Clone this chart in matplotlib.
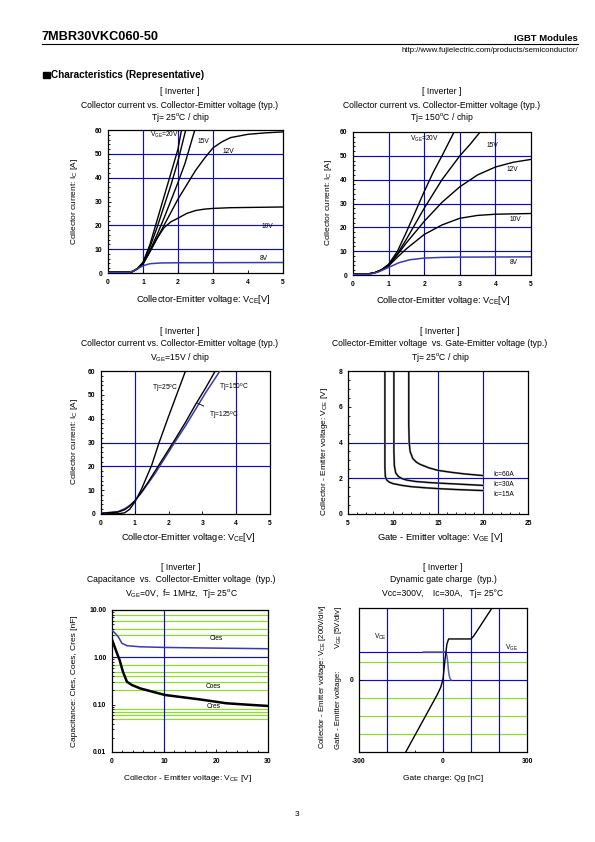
import matplotlib
matplotlib.use("Agg")
import matplotlib.pyplot as plt
from matplotlib.ticker import MultipleLocator, LogLocator, NullFormatter

# ---- chart 1: Ic vs Vce, Tj=25C ----
c1_vge20_v = [0.0, 0.5, 0.7, 0.85, 1.0, 1.2, 1.4, 1.6, 1.8, 2.0, 2.1]
c1_vge20_i = [0.3, 0.3, 0.6, 2.0, 4.5, 12, 22, 32, 42, 52, 60]
c1_vge17_v = [0.0, 0.5, 0.7, 0.85, 1.0, 1.2, 1.4, 1.6, 1.8, 2.0, 2.22]
c1_vge17_i = [0.3, 0.3, 0.6, 2.0, 4.3, 11, 19, 28, 37, 47, 60]
c1_vge15_v = [0.0, 0.5, 0.7, 0.85, 1.0, 1.2, 1.4, 1.6, 1.8, 2.0, 2.2, 2.48]
c1_vge15_i = [0.3, 0.3, 0.6, 1.9, 3.8, 9.5, 16, 23, 30.5, 38, 46, 60]
c1_vge12_v = [0.0, 0.5, 0.7, 0.85, 1.0, 1.2, 1.4, 1.6, 1.8, 2.0, 2.25, 2.5, 2.75, 3.0, 3.25, 3.5, 4.0, 4.5, 5.0]
c1_vge12_i = [0.3, 0.3, 0.6, 1.8, 3.8, 9, 14.5, 20, 25.5, 31, 37, 43, 48, 52.5, 55, 56.8, 58.2, 58.8, 59.2]
c1_vge10_v = [0.0, 0.5, 0.7, 0.85, 1.0, 1.2, 1.4, 1.6, 1.8, 2.0, 2.25, 2.5, 2.75, 3.0, 3.5, 4.0, 5.0]
c1_vge10_i = [0.3, 0.3, 0.6, 1.8, 3.8, 9, 14.5, 19, 21.5, 23, 25, 26.2, 26.8, 27.1, 27.4, 27.5, 27.7]
c1_vge8_v = [0.0, 0.6, 0.75, 0.9, 1.05, 1.2, 1.5, 2.0, 5.0]
c1_vge8_i = [0.2, 0.3, 1.0, 2.3, 3.3, 3.9, 4.2, 4.3, 4.4]

# ---- chart 2: Ic vs Vce, Tj=150C ----
c2_vge20_v = [0.0, 0.4, 0.6, 0.8, 1.0, 1.25, 1.5, 1.75, 2.0, 2.25, 2.5, 2.84]
c2_vge20_i = [0.3, 0.4, 0.9, 2.2, 4.5, 10, 18, 26.5, 35, 43, 50, 60]
c2_vge15_v = [0.0, 0.4, 0.6, 0.8, 1.0, 1.25, 1.5, 1.75, 2.0, 2.5, 3.0, 3.3, 3.57]
c2_vge15_i = [0.3, 0.4, 0.9, 2.2, 4.2, 9, 15, 21.5, 28, 40, 50, 55, 60]
c2_vge12_v = [0.0, 0.4, 0.6, 0.8, 1.0, 1.25, 1.5, 2.0, 2.5, 3.0, 3.5, 4.0, 4.5, 5.0]
c2_vge12_i = [0.3, 0.4, 0.9, 2.1, 4.0, 8.5, 13.5, 22.5, 30.5, 37, 42, 45.3, 47.3, 48.5]
c2_vge10_v = [0.0, 0.4, 0.6, 0.8, 1.0, 1.25, 1.5, 2.0, 2.5, 3.0, 3.5, 4.0, 5.0]
c2_vge10_i = [0.3, 0.4, 0.9, 2.0, 3.8, 7.5, 11, 17, 21, 23.8, 25, 25.5, 25.8]
c2_vge8_v = [0.0, 0.5, 0.7, 1.0, 1.3, 1.6, 2.0, 2.5, 3.0, 5.0]
c2_vge8_i = [0.2, 0.4, 1.2, 3.2, 5.2, 6.4, 7.1, 7.4, 7.5, 7.6]

# ---- chart 3: Ic vs Vce, Vge=15V ----
c3_tj25_v = [0.0, 0.5, 0.7, 0.85, 1.0, 1.2, 1.35, 1.5, 1.72, 2.0, 2.25, 2.5]
c3_tj25_i = [0.1, 0.1, 0.5, 2.0, 5.0, 10.5, 15.5, 20.5, 30, 41, 50.5, 60]
c3_tj125_v = [0.0, 0.5, 0.7, 0.85, 1.0, 1.2, 1.4, 1.6, 1.8, 2.0, 2.2, 2.5, 2.8, 3.1, 3.38]
c3_tj125_i = [0.3, 0.8, 1.8, 3.3, 5.5, 9.3, 13.5, 18, 22.5, 27, 31.5, 38.5, 46, 53, 60]
c3_tj150_v = [0.0, 0.5, 0.7, 0.85, 1.0, 1.2, 1.4, 1.6, 1.8, 2.0, 2.2, 2.5, 2.8, 3.1, 3.52]
c3_tj150_i = [0.3, 1.0, 2.2, 3.6, 5.5, 9, 13, 17, 21.5, 26, 30.5, 37, 44, 51, 60]

# ---- chart 4: Vce vs Vge, Tj=25C ----
c4_ic60_vge = [11.75, 11.75, 11.8, 11.9, 12.2, 12.6, 13.0, 14.0, 15.0, 16.5, 18.0, 20.0]
c4_ic60_vce = [8.0, 5.0, 4.0, 3.5, 3.1, 2.9, 2.78, 2.58, 2.44, 2.33, 2.24, 2.15]
c4_ic30_vge = [10.1, 10.1, 10.15, 10.3, 10.6, 11.0, 11.5, 12.5, 14.0, 15.0, 17.0, 20.0]
c4_ic30_vce = [8.0, 3.5, 2.7, 2.3, 2.1, 1.98, 1.9, 1.82, 1.76, 1.73, 1.68, 1.6]
c4_ic15_vge = [9.1, 9.1, 9.15, 9.3, 9.6, 10.0, 11.0, 12.0, 13.5, 15.0, 17.0, 20.0]
c4_ic15_vce = [8.0, 2.6, 2.1, 1.9, 1.78, 1.7, 1.6, 1.53, 1.47, 1.42, 1.37, 1.31]

# ---- chart 5: capacitance ----
c5_cies_v = [0.1, 0.63, 1.27, 1.9, 2.9, 5.4, 10, 16.9, 30]
c5_cies_c = [3.65, 3.2, 2.65, 1.98, 1.76, 1.67, 1.62, 1.58, 1.52]
c5_coes_v = [0.1, 0.96, 1.46, 2.1, 2.87, 3.83, 5.4, 7.3, 10.2, 13.7, 16.9, 22, 26, 30]
c5_coes_c = [2.21, 1.22, 0.877, 0.497, 0.305, 0.26, 0.221, 0.194, 0.16, 0.143, 0.129, 0.107, 0.1, 0.094]

# ---- chart 6: dynamic gate charge (y in divisions) ----
c6_vge_qg = [-133, -20, -8, 0, 7, 14, 20, 100, 110, 175]
c6_vge_div = [-4.0, -0.8, -0.4, 0.05, 1.1, 2.0, 2.28, 2.28, 2.45, 4.0]
c6_vce_qg = [-70, 10, 14, 17, 19, 21.5, 25, 29]
c6_vce_div = [1.556, 1.556, 1.35, 1.0, 0.6, 0.3, 0.08, 0.0]

W, H = 595, 842
BLUE = "#0c0cc8"
GREEN = "#86e21e"
CURVE_BLUE = "#3a3aae"
TITLE = 6.2
XLAB = 6.7
YLAB = 6.0
TICK = 4.9
LBL = 4.8

plt.rcParams["font.family"] = ["Liberation Sans", "DejaVu Sans"]
plt.rcParams["mathtext.fontset"] = "custom"
plt.rcParams["mathtext.rm"] = "Liberation Sans"
plt.rcParams["mathtext.it"] = "Liberation Sans:italic"
plt.rcParams["mathtext.bf"] = "Liberation Sans:bold"

fig = plt.figure(figsize=(W / 100, H / 100), dpi=100)


def ftext(x, y, s, **kw):
    kw.setdefault("fontsize", TITLE)
    return fig.text(x / W, 1 - y / H, s, **kw)


def add_ax(x0, y0, x1, y1):
    ax = fig.add_axes([x0 / W, 1 - y1 / H, (x1 - x0) / W, (y1 - y0) / H])
    ax.tick_params(which="both", direction="in", top=False, right=False,
                   length=2.2, width=0.6, pad=4)
    ax.tick_params(which="minor", length=1.4)
    for s in ax.spines.values():
        s.set_linewidth(0.9)
    return ax


def set_ticks(ax, xt, yt, xl=None, yl=None):
    ax.set_xticks(xt, labels=xl if xl else [str(t) for t in xt], fontsize=TICK, fontweight="bold")
    ax.set_yticks(yt, labels=yl if yl else [str(t) for t in yt], fontsize=TICK, fontweight="bold")


def titles(cx, y0, lines):
    for k, s in enumerate(lines):
        ftext(cx, y0 + 13 * k, s, ha="center", va="center")


def grid(ax, xs, ys, color=BLUE):
    for x in xs:
        ax.axvline(x, color=color, lw=0.85, zorder=1)
    for y in ys:
        ax.axhline(y, color=color, lw=0.85, zorder=1)


# ---------------- header ----------------
ftext(42, 37, "7MBR30VKC060-50", fontsize=9.2, fontweight="bold", ha="left", va="center")
ftext(578, 38.5, "IGBT Modules", fontsize=6.8, fontweight="bold", ha="right", va="center")
fig.add_artist(plt.Line2D([42 / W, 578 / W], [1 - 44 / H, 1 - 44 / H], color="black", lw=0.8))
ftext(578, 50, "http://www.fujielectric.com/products/semiconductor/", fontsize=5.6, ha="right", va="center")
fig.add_artist(plt.Rectangle((43 / W, 1 - 78 / H), 6.5 / W, 6.5 / H, color="black"))
ftext(51, 75, "Characteristics (Representative)", fontsize=7.2, fontweight="bold", ha="left", va="center")

# ---------------- chart 1 ----------------
ax = add_ax(108, 130, 283, 273)
grid(ax, [1, 2, 3], [10, 20, 40, 50])
for v, i in [(c1_vge20_v, c1_vge20_i), (c1_vge17_v, c1_vge17_i), (c1_vge15_v, c1_vge15_i),
             (c1_vge12_v, c1_vge12_i), (c1_vge10_v, c1_vge10_i)]:
    ax.plot(v, i, color="black", lw=1.0, zorder=3)
ax.plot(c1_vge8_v, c1_vge8_i, color=CURVE_BLUE, lw=1.1, zorder=3)
ax.set_xlim(0, 5)
ax.set_ylim(0, 60)
set_ticks(ax, [0, 1, 2, 3, 4, 5], [0, 10, 20, 30, 40, 50, 60])
ax.yaxis.set_minor_locator(MultipleLocator(2))
ax.text(1.2, 57.3, "V$_{\\mathrm{GE}}$=20V", fontsize=LBL, zorder=4)
ax.text(2.55, 54.5, "15V", fontsize=LBL)
ax.text(3.27, 50.5, "12V", fontsize=LBL)
ax.text(4.38, 18.8, "10V", fontsize=LBL)
ax.text(4.33, 5.5, "8V", fontsize=LBL)
titles(180, 92, ["[ Inverter ]", "Collector current vs. Collector-Emitter voltage (typ.)",
                 "Tj= 25$^{\\mathrm{o}}$C / chip"])
ftext(203, 299, "Collector-Emitter voltage: V$_{\\mathrm{CE}}$[V]", fontsize=XLAB, ha="center", va="center")
ftext(74, 202, "Collector current: I$_{\\mathrm{C}}$ [A]", fontsize=YLAB, ha="center", va="center", rotation=90)

# ---------------- chart 2 ----------------
ax = add_ax(353, 132, 531, 275)
grid(ax, [1, 2, 3, 4], [10, 20, 30, 40, 50])
for v, i in [(c2_vge20_v, c2_vge20_i), (c2_vge15_v, c2_vge15_i),
             (c2_vge12_v, c2_vge12_i), (c2_vge10_v, c2_vge10_i)]:
    ax.plot(v, i, color="black", lw=1.0, zorder=3)
ax.plot(c2_vge8_v, c2_vge8_i, color=CURVE_BLUE, lw=1.1, zorder=3)
ax.set_xlim(0, 5)
ax.set_ylim(0, 60)
set_ticks(ax, [0, 1, 2, 3, 4, 5], [0, 10, 20, 30, 40, 50, 60])
ax.yaxis.set_minor_locator(MultipleLocator(2))
ax.text(1.6, 56.3, "V$_{\\mathrm{GE}}$=20V", fontsize=LBL, zorder=4)
ax.text(3.76, 53.5, "15V", fontsize=LBL)
ax.text(4.32, 43.5, "12V", fontsize=LBL)
ax.text(4.39, 22.5, "10V", fontsize=LBL)
ax.text(4.39, 4.5, "8V", fontsize=LBL)
titles(442, 92, ["[ Inverter ]", "Collector current vs. Collector-Emitter voltage (typ.)",
                 "Tj= 150$^{\\mathrm{o}}$C / chip"])
ftext(443, 300, "Collector-Emitter voltage: V$_{\\mathrm{CE}}$[V]", fontsize=XLAB, ha="center", va="center")
ftext(328, 203, "Collector current: I$_{\\mathrm{C}}$ [A]", fontsize=YLAB, ha="center", va="center", rotation=90)

# ---------------- chart 3 ----------------
ax = add_ax(101, 371, 270, 514)
grid(ax, [1, 4], [20, 30])
ax.plot(c3_tj25_v, c3_tj25_i, color="black", lw=1.0, zorder=3)
ax.plot(c3_tj150_v, c3_tj150_i, color=CURVE_BLUE, lw=1.1, zorder=3)
ax.plot(c3_tj125_v, c3_tj125_i, color="black", lw=1.0, zorder=3)
ax.set_xlim(0, 5)
ax.set_ylim(0, 60)
set_ticks(ax, [0, 1, 2, 3, 4, 5], [0, 10, 20, 30, 40, 50, 60])
ax.yaxis.set_minor_locator(MultipleLocator(2))
ax.text(1.5, 51.5, "Tj=25$^{\\mathrm{o}}$C", fontsize=LBL)
ax.text(3.5, 52.3, "Tj=150$^{\\mathrm{o}}$C", fontsize=LBL)
ax.annotate("Tj=125$^{\\mathrm{o}}$C", xy=(2.78, 47), xytext=(3.2, 40.5), fontsize=LBL,
            arrowprops=dict(arrowstyle="-", lw=0.6, color="black"))
titles(180, 331, ["[ Inverter ]", "Collector current vs. Collector-Emitter voltage (typ.)",
                  "V$_{\\mathrm{GE}}$=15V / chip"])
ftext(188, 538, "Collector-Emitter voltage: V$_{\\mathrm{CE}}$[V]", fontsize=XLAB, ha="center", va="center")
ftext(74, 442, "Collector current: I$_{\\mathrm{C}}$ [A]", fontsize=YLAB, ha="center", va="center", rotation=90)

# ---------------- chart 4 ----------------
ax = add_ax(348, 371, 528, 514)
grid(ax, [15, 20], [2, 4])
for g, v in [(c4_ic60_vge, c4_ic60_vce), (c4_ic30_vge, c4_ic30_vce), (c4_ic15_vge, c4_ic15_vce)]:
    ax.plot(g, v, color="#a0a0a0", lw=1.5, zorder=2)
    ax.plot(g, v, color="black", lw=0.9, zorder=3)
ax.set_xlim(5, 25)
ax.set_ylim(0, 8)
set_ticks(ax, [5, 10, 15, 20, 25], [0, 2, 4, 6, 8])
ax.xaxis.set_minor_locator(MultipleLocator(1))
ax.yaxis.set_minor_locator(MultipleLocator(0.5))
ax.text(21.1, 2.2, "Ic=60A", fontsize=LBL, va="center")
ax.text(21.1, 1.64, "Ic=30A", fontsize=LBL, va="center")
ax.text(21.1, 1.1, "Ic=15A", fontsize=LBL, va="center")
titles(440, 331, ["[ Inverter ]", "Collector-Emitter voltage  vs. Gate-Emitter voltage (typ.)",
                  "Tj= 25$^{\\mathrm{o}}$C / chip"])
ftext(440, 538, "Gate - Emitter voltage: V$_{\\mathrm{GE}}$ [V]", fontsize=XLAB, ha="center", va="center")
ftext(324, 451, "Collector - Emitter voltage: V$_{\\mathrm{CE}}$ [V]", fontsize=YLAB,
      ha="center", va="center", rotation=90)

# ---------------- chart 5 ----------------
ax = add_ax(112, 610, 268, 752)
ax.set_yscale("log")
grid(ax, [], [8, 6, 4, 3, 0.7, 0.5, 0.4, 0.3, 0.2, 0.08, 0.07, 0.06, 0.05], color=GREEN)
grid(ax, [10], [1.0])
ax.plot(c5_cies_v, c5_cies_c, color=CURVE_BLUE, lw=1.1, zorder=3)
ax.plot(c5_coes_v, c5_coes_c, color="black", lw=1.8, zorder=3)
ax.set_xlim(0, 30)
ax.set_ylim(0.01, 10)
set_ticks(ax, [0, 10, 20, 30], [0.01, 0.1, 1, 10], yl=["0.01", "0.10", "1.00", "10.00"])
ax.xaxis.set_minor_locator(MultipleLocator(2))
ax.yaxis.set_minor_locator(LogLocator(base=10, subs=range(2, 10)))
ax.yaxis.set_minor_formatter(NullFormatter())
ax.text(20, 2.35, "Cies", fontsize=LBL, ha="center")
ax.text(19.5, 0.23, "Coes", fontsize=LBL, ha="center")
ax.text(19.5, 0.083, "Cres", fontsize=LBL, ha="center")
titles(181, 567, ["[ Inverter ]", "Capacitance  vs.  Collector-Emitter voltage  (typ.)",
                  "V$_{\\mathrm{GE}}$=0V,  f= 1MHz,  Tj= 25$^{\\mathrm{o}}$C"])
ftext(188, 778, "Collector - Emitter voltage: V$_{\\mathrm{CE}}$ [V]", fontsize=YLAB, ha="center", va="center")
ftext(74, 681, "Capacitance: Cies, Coes, Cres [nF]", fontsize=YLAB, ha="center", va="center", rotation=90)

# ---------------- chart 6 ----------------
ax = add_ax(359, 608, 527, 752)
grid(ax, [], [1, -1, -2, -3], color=GREEN)
grid(ax, [-200, 0, 100, 200], [0, 1.556])
ax.plot(c6_vce_qg, c6_vce_div, color="#5560b8", lw=1.1, zorder=3)
ax.plot(c6_vge_qg, c6_vge_div, color="black", lw=1.0, zorder=4)
ax.set_xlim(-300, 300)
ax.set_ylim(-4, 4)
set_ticks(ax, [-300, 0, 300], [0])
ax.xaxis.set_minor_locator(MultipleLocator(100))
ax.text(-245, 2.3, "V$_{\\mathrm{CE}}$", fontsize=LBL)
ax.text(222, 1.7, "V$_{\\mathrm{GE}}$", fontsize=LBL)
titles(443, 567, ["[ Inverter ]", "Dynamic gate charge  (typ.)",
                  "Vcc=300V,    Ic=30A,   Tj= 25°C"])
ftext(443, 778, "Gate charge: Qg [nC]", fontsize=YLAB, ha="center", va="center")
ftext(323, 749, "Collector - Emitter voltage: V$_{\\mathrm{CE}}$ [200V/div]", fontsize=5.6, rotation=90,
      rotation_mode="anchor", ha="left", va="center")
ftext(339, 749, "Gate - Emitter voltage:", fontsize=5.6, rotation=90,
      rotation_mode="anchor", ha="left", va="center")
ftext(339, 606, "V$_{\\mathrm{GE}}$ [5V/div]", fontsize=5.6, rotation=90,
      rotation_mode="anchor", ha="right", va="center")

# page number
ftext(297, 814, "3", fontsize=6.0, ha="center", va="center")

fig.savefig("out.png", dpi=100)
plt.close(fig)
